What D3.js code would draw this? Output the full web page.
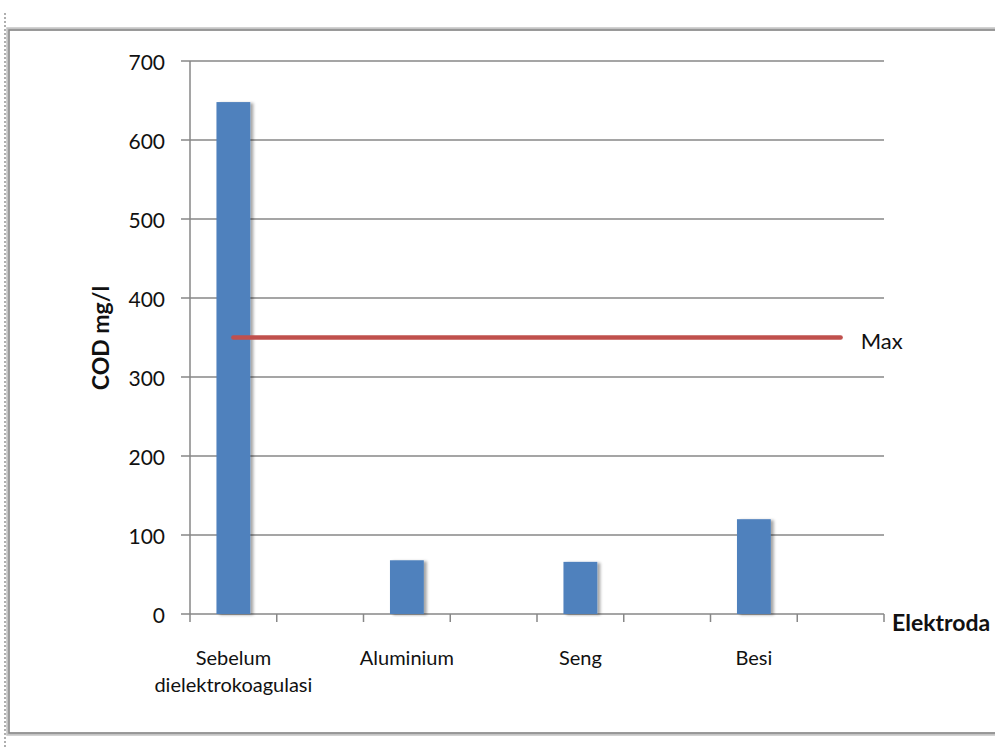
<!DOCTYPE html>
<html>
<head>
<meta charset="utf-8">
<script src="https://cdn.jsdelivr.net/npm/d3@7"></script>
<style>
  html, body { margin: 0; padding: 0; background: #fff; }
  svg { display: block; }
  text { font-family: Lato, "Open Sans", sans-serif; fill: #111; }
</style>
</head>
<body>
<svg id="chart" width="995" height="747"></svg>
<script>
// Category slots on the x axis (labelled slots hold the electrodes)
const categories = ["Sebelum\ndielektrokoagulasi", "", "Aluminium", "", "Seng", "", "Besi", ""];
// COD (mg/l) for each slot; empty slots have no bar
const codValues = [648, null, 68, null, 66, null, 120, null];
// Maximum allowed COD, drawn as a line across all slots
const maxValues = [350, 350, 350, 350, 350, 350, 350, 350];
const maxLabel = "Max";
const yTicks = [0, 100, 200, 300, 400, 500, 600, 700];
const yTitle = "COD mg/l";
const xTitle = "Elektroda";

const svg = d3.select("#chart");
const W = 995, H = 747;
const plot = { left: 190, right: 884, top: 61, bottom: 614 };

const defs = svg.append("defs");
const shadow = defs.append("filter").attr("id", "barShadow")
  .attr("x", "-30%").attr("y", "-5%").attr("width", "170%").attr("height", "110%");
shadow.append("feDropShadow").attr("dx", 3).attr("dy", 1)
  .attr("stdDeviation", 1.8).attr("flood-color", "#000").attr("flood-opacity", 0.35);

// Outer frame
svg.append("line").attr("x1", 5).attr("x2", 5).attr("y1", 13).attr("y2", H)
  .attr("stroke", "#7a7a7a").attr("stroke-width", 1.2).attr("stroke-dasharray", "2,2");
svg.append("path")
  .attr("d", `M ${W + 5} 29 H 8 V 734 H ${W + 5}`)
  .attr("fill", "none").attr("stroke", "#c4c4c4").attr("stroke-width", 3.5);
svg.append("path")
  .attr("d", `M ${W + 5} 30 H 9 V 733 H ${W + 5}`)
  .attr("fill", "none").attr("stroke", "#888", ).attr("stroke-width", 1.4);

const x = d3.scaleBand().domain(d3.range(categories.length))
  .range([plot.left, plot.right]).padding(0);
const y = d3.scaleLinear().domain([0, 700]).range([plot.bottom, plot.top]);

const gridColor = "#878787";

// Horizontal gridlines with left tick marks
svg.append("g").selectAll("line").data(yTicks).join("line")
  .attr("x1", plot.left - 9).attr("x2", plot.right)
  .attr("y1", d => y(d)).attr("y2", d => y(d))
  .attr("stroke", gridColor).attr("stroke-width", 1.5);

// Y axis line
svg.append("line").attr("x1", plot.left).attr("x2", plot.left)
  .attr("y1", plot.top).attr("y2", plot.bottom)
  .attr("stroke", gridColor).attr("stroke-width", 1.5);

// Y tick labels
svg.append("g").selectAll("text").data(yTicks).join("text")
  .attr("x", plot.left - 25).attr("y", d => y(d))
  .attr("text-anchor", "end").attr("dominant-baseline", "central")
  .attr("font-size", 21).text(d => d);

// X axis tick marks at slot boundaries
const bounds = d3.range(categories.length + 1).map(i => plot.left + i * x.bandwidth());
svg.append("g").selectAll("line").data(bounds).join("line")
  .attr("x1", d => d).attr("x2", d => d)
  .attr("y1", plot.bottom).attr("y2", plot.bottom + 8)
  .attr("stroke", gridColor).attr("stroke-width", 1.5);

// Bars
const barW = x.bandwidth() * 0.39;
svg.append("g").selectAll("rect")
  .data(codValues.map((v, i) => ({ v, i })).filter(d => d.v != null))
  .join("rect")
  .attr("x", d => x(d.i) + (x.bandwidth() - barW) / 2)
  .attr("width", barW)
  .attr("y", d => y(d.v))
  .attr("height", d => y(0) - y(d.v))
  .attr("fill", "#4F81BD")
  .attr("filter", "url(#barShadow)");

// Max line
const line = d3.line().x((d, i) => x(i) + x.bandwidth() / 2).y(d => y(d));
svg.append("path").datum(maxValues)
  .attr("d", line).attr("fill", "none")
  .attr("stroke", "#C0504D").attr("stroke-width", 4.5).attr("stroke-linecap", "round");
svg.append("text")
  .attr("x", x(maxValues.length - 1) + x.bandwidth() / 2 + 20)
  .attr("y", y(maxValues[maxValues.length - 1]) + 3)
  .attr("dominant-baseline", "central").attr("font-size", 22).text(maxLabel);

// Category labels
const catG = svg.append("g");
categories.forEach((c, i) => {
  if (!c) return;
  const t = catG.append("text")
    .attr("x", x(i) + x.bandwidth() / 2).attr("y", 665)
    .attr("text-anchor", "middle").attr("font-size", 20);
  c.split("\n").forEach((part, k) => {
    t.append("tspan").attr("x", x(i) + x.bandwidth() / 2)
      .attr("dy", k === 0 ? 0 : 27).text(part);
  });
});

// Axis titles
svg.append("text")
  .attr("transform", `translate(109, 338) rotate(-90)`)
  .attr("text-anchor", "middle").attr("font-size", 23).attr("font-weight", "bold")
  .text(yTitle);
svg.append("text")
  .attr("x", 892).attr("y", 622)
  .attr("dominant-baseline", "central").attr("font-size", 23).attr("font-weight", "bold")
  .text(xTitle);
</script>
</body>
</html>
